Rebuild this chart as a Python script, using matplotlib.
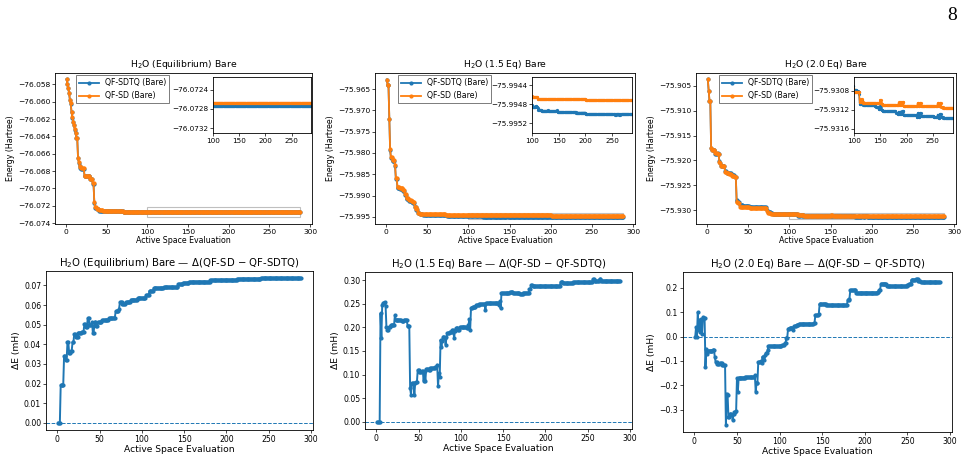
import numpy as np
import matplotlib
matplotlib.use('Agg')
from matplotlib import pyplot as plt
from matplotlib.patches import Rectangle
from matplotlib.ticker import ScalarFormatter, MultipleLocator

# evaluation index (1 ... 288)
x = np.arange(1, 289)

# QF-SD energies (Hartree), plateau start index -> value
eq_sd_start = [1, 2, 3, 4, 5, 6, 7, 8, 9, 10, 11, 12, 13, 15, 16, 17, 18, 19, 23, 30, 33, 35, 36, 38, 41, 46, 71]
eq_sd_val = [-76.05743, -76.0580, -76.05846, -76.0590, -76.0598, -76.0602, -76.0612, -76.0618, -76.0623,
             -76.06265, -76.0632, -76.0636, -76.06417, -76.0665, -76.0670, -76.0674, -76.06755, -76.0677,
             -76.06856, -76.06886, -76.0694, -76.0716, -76.07217, -76.07237, -76.0725, -76.0726, -76.07267]

s15_sd_start = [1, 2, 4, 5, 6, 8, 11, 12, 14, 17, 21, 23, 25, 28, 31, 33, 35, 37, 39, 41, 45, 73, 100, 111, 201]
s15_sd_val = [-75.96273, -75.96406, -75.9720, -75.97917, -75.98105, -75.98168, -75.98285, -75.98599, -75.9881,
              -75.98829, -75.98873, -75.98967, -75.9907, -75.9910, -75.9913, -75.9916, -75.9926, -75.99327,
              -75.9940, -75.9943, -75.99446, -75.99462, -75.99465, -75.99469, -75.99472]

s20_sd_start = [1, 2, 3, 5, 6, 10, 13, 15, 16, 17, 22, 24, 27, 30, 34, 36, 38, 40, 44, 52,
                73, 74, 78, 100, 111, 114, 115, 116, 117, 118, 150, 151, 152, 153, 155, 185, 186, 188, 190, 192,
                195, 221, 223, 225, 228, 231, 259, 261, 263, 266, 270]
s20_sd_val = [-75.90373, -75.9060, -75.90801, -75.91757, -75.9179, -75.91857, -75.9187, -75.92024, -75.9206, -75.92111,
              -75.92225, -75.92258, -75.92271, -75.92311, -75.92338, -75.92826, -75.9286, -75.92927, -75.9294, -75.9296,
              -75.9302, -75.93047, -75.93074, -75.93083, -75.93104, -75.93097, -75.93104, -75.93097, -75.93104, -75.93106,
              -75.93099, -75.93106, -75.93099, -75.93108, -75.93111, -75.93105, -75.93111, -75.93105, -75.93111, -75.93105,
              -75.93113, -75.93106, -75.93113, -75.93106, -75.93113, -75.93113, -75.93107, -75.93113, -75.93107, -75.93114,
              -75.93116]

# Delta E = QF-SD - QF-SDTQ (mH)
eq_de_start = [1, 4, 8, 10, 12, 14, 16, 18, 20, 22, 25, 29, 32, 34, 36, 38, 41, 42, 44, 46,
               48, 53, 61, 67, 69, 73, 74, 77, 81, 87, 95, 105, 109, 114, 126, 143, 149, 156, 181, 196,
               213, 241, 271]
eq_de_val = [0.0, 0.0193, 0.0342, 0.032, 0.041, 0.0355, 0.0367, 0.041, 0.0451, 0.0438,
             0.046, 0.0465, 0.0502, 0.0489, 0.0533, 0.050, 0.0514, 0.046, 0.0514, 0.0494,
             0.0512, 0.0522, 0.0533, 0.0536, 0.0568, 0.058, 0.0615, 0.0605, 0.0615, 0.0628,
             0.0637, 0.0652, 0.0672, 0.0688, 0.0692, 0.0706, 0.0714, 0.0719, 0.0726, 0.0729,
             0.0734, 0.0736, 0.0737]

s15_de_start = [1, 5, 6, 7, 8, 10, 11, 12, 13, 15, 17, 22, 23, 30, 33, 37, 40, 41, 42, 45,
                46, 47, 49, 51, 54, 56, 57, 58, 59, 62, 64, 70, 72, 73, 74, 75, 76, 77, 78, 79,
                81, 82, 83, 84, 87, 90, 92, 93, 94, 97, 99, 107, 109, 110, 111, 112, 114, 118, 122, 129,
                130, 145, 146, 147, 148, 158, 162, 170, 174, 181, 183, 185, 218, 221, 233, 256, 258, 264, 266]
s15_de_val = [0.0, 0.2297, 0.1785, 0.247, 0.252, 0.254, 0.245, 0.2, 0.195, 0.2,
              0.205, 0.226, 0.216, 0.2136, 0.216, 0.203, 0.0717, 0.0576, 0.082, 0.0576,
              0.082, 0.0836, 0.110, 0.105, 0.107, 0.086, 0.107, 0.086, 0.112, 0.109,
              0.114, 0.116, 0.121, 0.075, 0.103, 0.096, 0.1735, 0.159, 0.172, 0.1806,
              0.177, 0.163, 0.18, 0.1876, 0.191, 0.1946, 0.177, 0.192, 0.198, 0.1946,
              0.2, 0.198, 0.205, 0.217, 0.1946, 0.2417, 0.2438, 0.247, 0.249, 0.237,
              0.251, 0.247, 0.256, 0.240, 0.272, 0.274, 0.272, 0.2705, 0.2733, 0.2803,
              0.2895, 0.2874, 0.2965, 0.294, 0.295, 0.302, 0.2986, 0.302, 0.2986]

s20_de_start = [1, 2, 3, 4, 5, 6, 7, 8, 9, 10, 11, 13, 14, 15, 16, 22, 24, 25, 27, 30,
                33, 37, 38, 39, 40, 42, 44, 45, 46, 47, 49, 50, 51, 52, 60, 71, 72, 73, 75, 78,
                79, 80, 82, 83, 84, 86, 87, 103, 106, 108, 110, 112, 116, 117, 120, 123, 140, 142, 146, 147,
                152, 155, 180, 182, 183, 190, 215, 217, 219, 226, 250, 252, 255, 260, 263, 266]
s20_de_val = [0.0, 0.04, 0.0, 0.101, 0.026, 0.067, 0.018, 0.073, 0.011, 0.08,
              0.077, -0.125, -0.05, -0.071, -0.057, -0.053, -0.085, -0.105, -0.112, -0.110,
              -0.116, -0.362, -0.234, -0.24, -0.33, -0.316, -0.321, -0.344, -0.316, -0.310,
              -0.307, -0.17, -0.227, -0.168, -0.166, -0.159, -0.227, -0.189, -0.104, -0.101,
              -0.11, -0.082, -0.096, -0.075, -0.068, -0.055, -0.04, -0.034, -0.027, -0.004,
              0.033, 0.037, 0.027, 0.042, 0.048, 0.053, 0.056, 0.088, 0.092, 0.133,
              0.136, 0.129, 0.152, 0.156, 0.19, 0.181, 0.183, 0.193, 0.218, 0.208,
              0.213, 0.218, 0.234, 0.236, 0.227, 0.225]

titles = ['Equilibrium', '1.5 Eq', '2.0 Eq']


def steps(starts, vals):
    idx = np.searchsorted(starts, x, side='right') - 1
    return np.asarray(vals)[idx]


sd = [steps(eq_sd_start, eq_sd_val), steps(s15_sd_start, s15_sd_val), steps(s20_sd_start, s20_sd_val)]
de = [steps(eq_de_start, eq_de_val), steps(s15_de_start, s15_de_val), steps(s20_de_start, s20_de_val)]
sdtq = [sd[i] - de[i] * 1e-3 for i in range(3)]

top_pos = [[0.0566, 0.5162, 0.2647, 0.3261], [0.3862, 0.5162, 0.2678, 0.3261], [0.7168, 0.5162, 0.2678, 0.3261]]
bot_pos = [[0.0474, 0.0713, 0.2750, 0.3434], [0.3759, 0.0734, 0.2750, 0.3391], [0.7034, 0.0670, 0.2770, 0.3456]]
top_ylim = [(-76.0741, -76.0567), (-75.9967, -75.9612), (-75.93275, -75.90245)]
ins_ylim = [(-76.07331, -76.07213), (-75.99542, -75.99422), (-75.9317, -75.93051)]
ins_pos = [[0.615, 0.60, 0.383, 0.375], [0.604, 0.60, 0.385, 0.375], [0.607, 0.60, 0.381, 0.375]]
leg_x = [0.074, 0.08, 0.08]


def plain(axis):
    fmt = ScalarFormatter(useOffset=False)
    axis.set_major_formatter(fmt)


fig = plt.figure(figsize=(9.71, 4.63), dpi=100)

for i in range(3):
    ax = fig.add_axes(top_pos[i])
    ax.plot(x, sdtq[i], marker='o', ms=2.0, lw=1.3, color='#1f77b4', label='QF-SDTQ (Bare)')
    ax.plot(x, sd[i], marker='o', ms=2.0, lw=1.3, color='#ff7f0e', label='QF-SD (Bare)')
    ax.set_ylim(top_ylim[i])
    plain(ax.yaxis)
    ax.set_title('H$_2$O (' + titles[i] + ') Bare', fontsize=6.7, pad=4.5)
    ax.set_xlabel('Active Space Evaluation', fontsize=5.7, labelpad=1)
    ax.set_ylabel('Energy (Hartree)', fontsize=5.7, labelpad=2)
    ax.set_xticks([0, 50, 100, 150, 200, 250, 300])
    ax.tick_params(labelsize=5.4, length=2, width=0.5, pad=1.5)
    for sp in ax.spines.values():
        sp.set_linewidth(0.6)
    leg = ax.legend(loc='upper left', bbox_to_anchor=(leg_x[i], 1.0), fontsize=5.6, borderaxespad=0.3,
                    handlelength=2.5, framealpha=1, edgecolor='0.4', fancybox=False)
    leg.get_frame().set_linewidth(0.6)

    ax.add_patch(Rectangle((100, ins_ylim[i][0]), 188, ins_ylim[i][1] - ins_ylim[i][0],
                           fill=False, edgecolor='0.5', alpha=0.5, lw=0.8))

    ins = ax.inset_axes(ins_pos[i])
    ins.plot(x, sdtq[i], marker='o', ms=1.3, lw=1.1, color='#1f77b4')
    ins.plot(x, sd[i], marker='o', ms=1.3, lw=1.1, color='#ff7f0e')
    ins.set_xlim(100, 288)
    ins.set_ylim(ins_ylim[i])
    ins.yaxis.set_major_locator(MultipleLocator(0.0004))
    plain(ins.yaxis)
    ins.set_xticks([100, 150, 200, 250])
    ins.tick_params(labelsize=5.2, length=2, width=0.5, pad=1.5)
    for sp in ins.spines.values():
        sp.set_linewidth(0.6)

for i in range(3):
    ax = fig.add_axes(bot_pos[i])
    ax.plot(x, de[i], marker='o', ms=2.0, lw=1.4, color='#1f77b4')
    ax.axhline(0, ls='--', lw=0.7, color='#1f77b4')
    ax.set_title('H$_2$O (' + titles[i] + ') Bare \u2014 \u0394(QF-SD \u2212 QF-SDTQ)', fontsize=7.3, pad=3.5)
    ax.set_xlabel('Active Space Evaluation', fontsize=6.6, labelpad=1)
    ax.set_ylabel('\u0394E (mH)', fontsize=6.6, labelpad=2)
    ax.set_xticks([0, 50, 100, 150, 200, 250, 300])
    ax.tick_params(labelsize=5.6, length=2, width=0.5, pad=1.5)
    for sp in ax.spines.values():
        sp.set_linewidth(0.6)

fig.text(0.986, 0.985, '8', ha='right', va='top', fontsize=14, family='Liberation Serif')

plt.savefig('out.png', dpi=100)
